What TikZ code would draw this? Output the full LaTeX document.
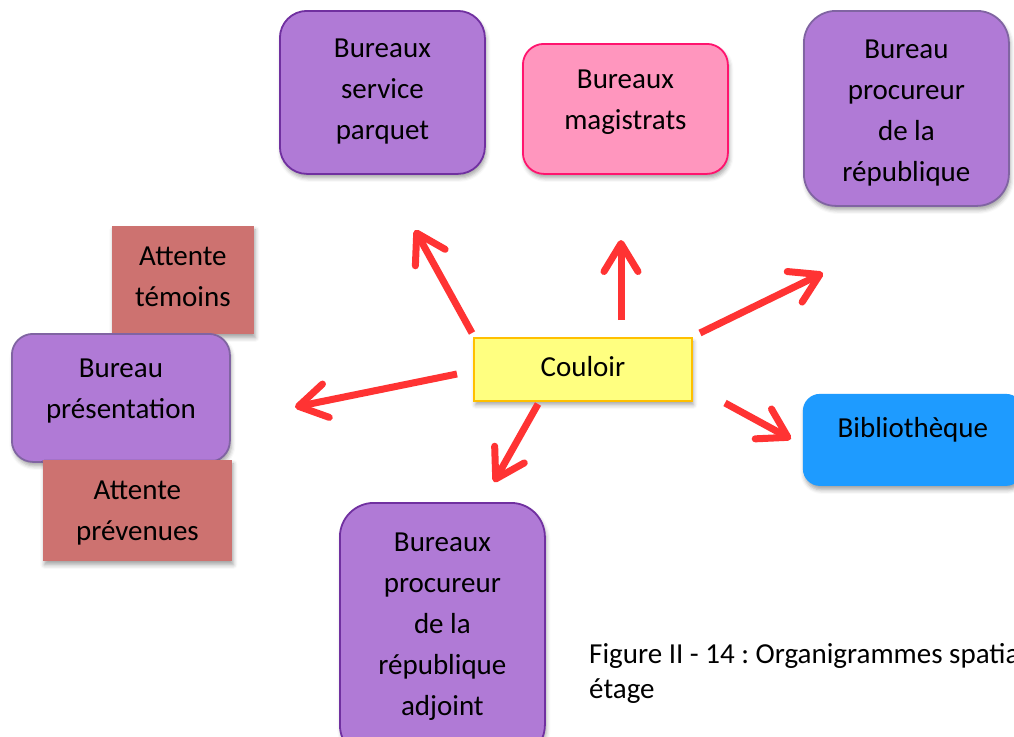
\documentclass[tikz,border=0pt]{standalone}
\usepackage{fontspec}
\setmainfont{Carlito}
\usetikzlibrary{arrows.meta,shadows.blur}
\frenchspacing

\definecolor{roomviolet}{RGB}{176,122,214}
\definecolor{violetedge}{RGB}{112,48,160}
\definecolor{violetgrey}{RGB}{128,100,162}
\definecolor{roompink}{RGB}{255,150,190}
\definecolor{pinkedge}{RGB}{255,20,110}
\definecolor{roomwait}{RGB}{205,114,112}
\definecolor{corridor}{RGB}{255,255,128}
\definecolor{corridoredge}{RGB}{255,192,0}
\definecolor{roomblue}{RGB}{30,155,255}
\definecolor{arrowred}{RGB}{255,51,51}

\begin{document}
\begin{tikzpicture}[x=1pt,y=-1pt,
  room/.style={anchor=north west, inner sep=0pt, line width=1.8pt,
    blur shadow={shadow xshift=1.5pt, shadow yshift=-4pt,
      shadow blur radius=4pt, shadow opacity=35}},
  roomtext/.style={font=\fontsize{29}{41}\selectfont, align=center,
    inner sep=0pt, text=black},
  link/.style={draw=arrowred, line width=7pt,
    -{Straight Barb[length=28pt,width=34pt,round]}}]

\useasboundingbox (0,0) rectangle (1014,736);
\clip (0,0) rectangle (1014,736);

% offices around the corridor
\node[room, fill=roomviolet, draw=violetedge, rounded corners=27pt,
  minimum width=205pt, minimum height=163pt,
  label={[roomtext,name=parquet-t,yshift=1pt]center:{Bureaux\\service\\parquet}}]
  (parquet) at (279,10) {};

\node[room, fill=roompink, draw=pinkedge, rounded corners=21pt,
  minimum width=205pt, minimum height=130pt,
  label={[roomtext,name=magistrats-t,yshift=6.5pt]center:{Bureaux\\magistrats}}]
  (magistrats) at (522,43) {};

\node[room, fill=roomviolet, draw=violetgrey, rounded corners=32pt,
  minimum width=205pt, minimum height=195pt,
  label={[roomtext,name=procureur-t,yshift=-5pt]center:{Bureau\\procureur\\de la\\république}}]
  (procureur) at (803,10) {};

\node[room, fill=roomwait, minimum width=142pt, minimum height=108pt,
  label={[roomtext,name=temoins-t,yshift=3pt]center:{Attente\\témoins}}]
  (temoins) at (111,225) {};

\node[room, fill=roomviolet, draw=violetgrey, rounded corners=21pt,
  minimum width=218pt, minimum height=128pt,
  label={[roomtext,name=presentation-t,yshift=7pt]center:{Bureau\\présentation}}]
  (presentation) at (11,333) {};

\node[room, fill=roomwait, minimum width=189pt, minimum height=101pt,
  label={[roomtext,name=prevenues-t,yshift=-3pt]center:{Attente\\prévenues}}]
  (prevenues) at (42,459) {};

\node[room, fill=corridor, draw=corridoredge, minimum width=218pt,
  minimum height=63pt,
  label={[roomtext,name=couloir-t,yshift=2.5pt]center:{Couloir}}]
  (couloir) at (473,337) {};

\node[room, fill=roomblue, rounded corners=17pt,
  minimum width=220pt, minimum height=92pt,
  label={[roomtext,name=biblio-t,yshift=10pt]center:{Bibliothèque}}]
  (biblio) at (802,393) {};

\node[room, fill=roomviolet, draw=violetedge, rounded corners=34pt,
  minimum width=205pt, minimum height=256pt,
  label={[roomtext,name=adjoint-t,yshift=4pt]center:{Bureaux\\procureur\\de la\\république\\adjoint}}]
  (adjoint) at (339,502) {};

% arrow ends
\coordinate (a1-from) at (472,333); \coordinate (a1-to) at (415,230);
\coordinate (a2-from) at (621,320); \coordinate (a2-to) at (621,240);
\coordinate (a3-from) at (700,333); \coordinate (a3-to) at (823,273);
\coordinate (a4-from) at (457,374); \coordinate (a4-to) at (295,407);
\coordinate (a5-from) at (538,404); \coordinate (a5-to) at (494,482);
\coordinate (a6-from) at (725,403); \coordinate (a6-to) at (791,439);

\foreach \k in {1,...,6}
  \draw[link] (a\k-from) -- (a\k-to);

% caption
\node[anchor=north west, align=left, inner sep=0pt,
  font=\fontsize{29}{35}\selectfont] (caption) at (589,643)
  {Figure II - 14 : Organigrammes spatia\\étage};
\end{tikzpicture}
\end{document}
